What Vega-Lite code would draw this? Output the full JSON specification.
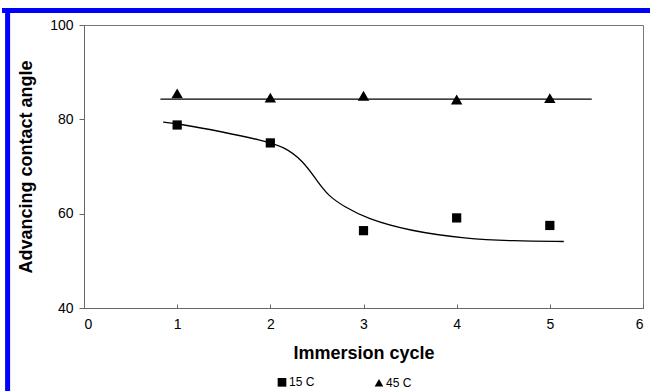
{
  "$schema": "https://vega.github.io/schema/vega-lite/v6.json",
  "autosize": {"type": "none"},
  "width": 559,
  "height": 283,
  "padding": {"left": 84, "top": 25, "right": 7, "bottom": 83},
  "background": "white",
  "config": {
    "font": "Liberation Sans",
    "view": {"stroke": "#777777", "strokeWidth": 1},
    "axis": {"grid": false, "domainColor": "#666666", "tickColor": "#666666", "labelColor": "black", "titleColor": "black", "labelFont": "Liberation Sans", "titleFont": "Liberation Sans", "labelFontSize": 14, "titleFontSize": 18, "titleFontWeight": "bold"}
  },
  "datasets": {
    "points": [
      {"cycle": 1, "angle": 78.8, "series": "15 C"},
      {"cycle": 2, "angle": 75.0, "series": "15 C"},
      {"cycle": 3, "angle": 56.4, "series": "15 C"},
      {"cycle": 4, "angle": 59.1, "series": "15 C"},
      {"cycle": 5, "angle": 57.5, "series": "15 C"},
      {"cycle": 1, "angle": 85.5, "series": "45 C"},
      {"cycle": 2, "angle": 84.6, "series": "45 C"},
      {"cycle": 3, "angle": 85.0, "series": "45 C"},
      {"cycle": 4, "angle": 84.2, "series": "45 C"},
      {"cycle": 5, "angle": 84.5, "series": "45 C"}
    ],
    "fits": [
      {"cycle": 0.85, "angle": 79.4, "series": "15 C"},
      {"cycle": 1.0, "angle": 79.1, "series": "15 C"},
      {"cycle": 1.5, "angle": 77.3, "series": "15 C"},
      {"cycle": 1.9, "angle": 75.6, "series": "15 C"},
      {"cycle": 2.15, "angle": 74.2, "series": "15 C"},
      {"cycle": 2.35, "angle": 71.2, "series": "15 C"},
      {"cycle": 2.5, "angle": 67.0, "series": "15 C"},
      {"cycle": 2.62, "angle": 63.8, "series": "15 C"},
      {"cycle": 2.8, "angle": 61.4, "series": "15 C"},
      {"cycle": 3.03, "angle": 59.0, "series": "15 C"},
      {"cycle": 3.5, "angle": 56.3, "series": "15 C"},
      {"cycle": 4.1, "angle": 54.7, "series": "15 C"},
      {"cycle": 4.6, "angle": 54.2, "series": "15 C"},
      {"cycle": 5.15, "angle": 54.1, "series": "15 C"},
      {"cycle": 0.82, "angle": 84.3, "series": "45 C"},
      {"cycle": 5.45, "angle": 84.3, "series": "45 C"}
    ]
  },
  "layer": [
    {
      "data": {"name": "fits"},
      "mark": {"type": "line", "interpolate": "basis", "color": "black", "strokeWidth": 1.3},
      "encoding": {
        "x": {"field": "cycle", "type": "quantitative", "scale": {"domain": [0, 6], "nice": false}, "axis": {"title": "Immersion cycle", "values": [0, 1, 2, 3, 4, 5, 6], "format": "d", "tickSize": -4, "labelPadding": 13, "titlePadding": 13}},
        "y": {"field": "angle", "type": "quantitative", "scale": {"domain": [40, 100], "nice": false, "zero": false}, "axis": {"title": "Advancing contact angle", "values": [40, 60, 80, 100], "tickSize": 5, "labelPadding": 6, "titlePadding": 14}},
        "detail": {"field": "series"}
      }
    },
    {
      "data": {"name": "points"},
      "transform": [{"filter": "datum.series === '15 C'"}],
      "mark": {"type": "point", "filled": true, "color": "black", "opacity": 1, "size": 85},
      "encoding": {
        "x": {"field": "cycle", "type": "quantitative", "scale": {"domain": [0, 6], "nice": false}},
        "y": {"field": "angle", "type": "quantitative", "scale": {"domain": [40, 100], "nice": false, "zero": false}},
        "shape": {
          "field": "series", "type": "nominal",
          "scale": {"domain": ["15 C", "45 C"], "range": ["square", "triangle-up"]},
          "legend": {"title": null, "orient": "none", "direction": "horizontal", "legendX": 192, "legendY": 351, "labelFontSize": 12, "labelFont": "Liberation Sans", "symbolSize": 75, "symbolFillColor": "black", "symbolStrokeColor": "black", "columnPadding": 56, "labelOffset": 1}
        }
      }
    },
    {
      "data": {"name": "points"},
      "transform": [{"filter": "datum.series === '45 C'"}],
      "mark": {"type": "point", "filled": true, "color": "black", "opacity": 1, "size": 130},
      "encoding": {
        "x": {"field": "cycle", "type": "quantitative", "scale": {"domain": [0, 6], "nice": false}},
        "y": {"field": "angle", "type": "quantitative", "scale": {"domain": [40, 100], "nice": false, "zero": false}},
        "shape": {"field": "series", "type": "nominal", "scale": {"domain": ["15 C", "45 C"], "range": ["square", "triangle-up"]}}
      }
    },
    {
      "data": {"values": [{}]},
      "mark": {"type": "rule", "color": "#0000ff", "strokeWidth": 5, "clip": false},
      "encoding": {
        "x": {"datum": -0.88, "type": "quantitative", "scale": {"domain": [0, 6], "nice": false}},
        "x2": {"datum": 6.1},
        "y": {"datum": 103.1, "type": "quantitative", "scale": {"domain": [40, 100], "nice": false, "zero": false}}
      }
    },
    {
      "data": {"values": [{}]},
      "mark": {"type": "rule", "color": "#0000ff", "strokeWidth": 5, "clip": false},
      "encoding": {
        "x": {"datum": -0.82, "type": "quantitative", "scale": {"domain": [0, 6], "nice": false}},
        "y": {"datum": 103.6, "type": "quantitative", "scale": {"domain": [40, 100], "nice": false, "zero": false}},
        "y2": {"datum": 22}
      }
    }
  ]
}
